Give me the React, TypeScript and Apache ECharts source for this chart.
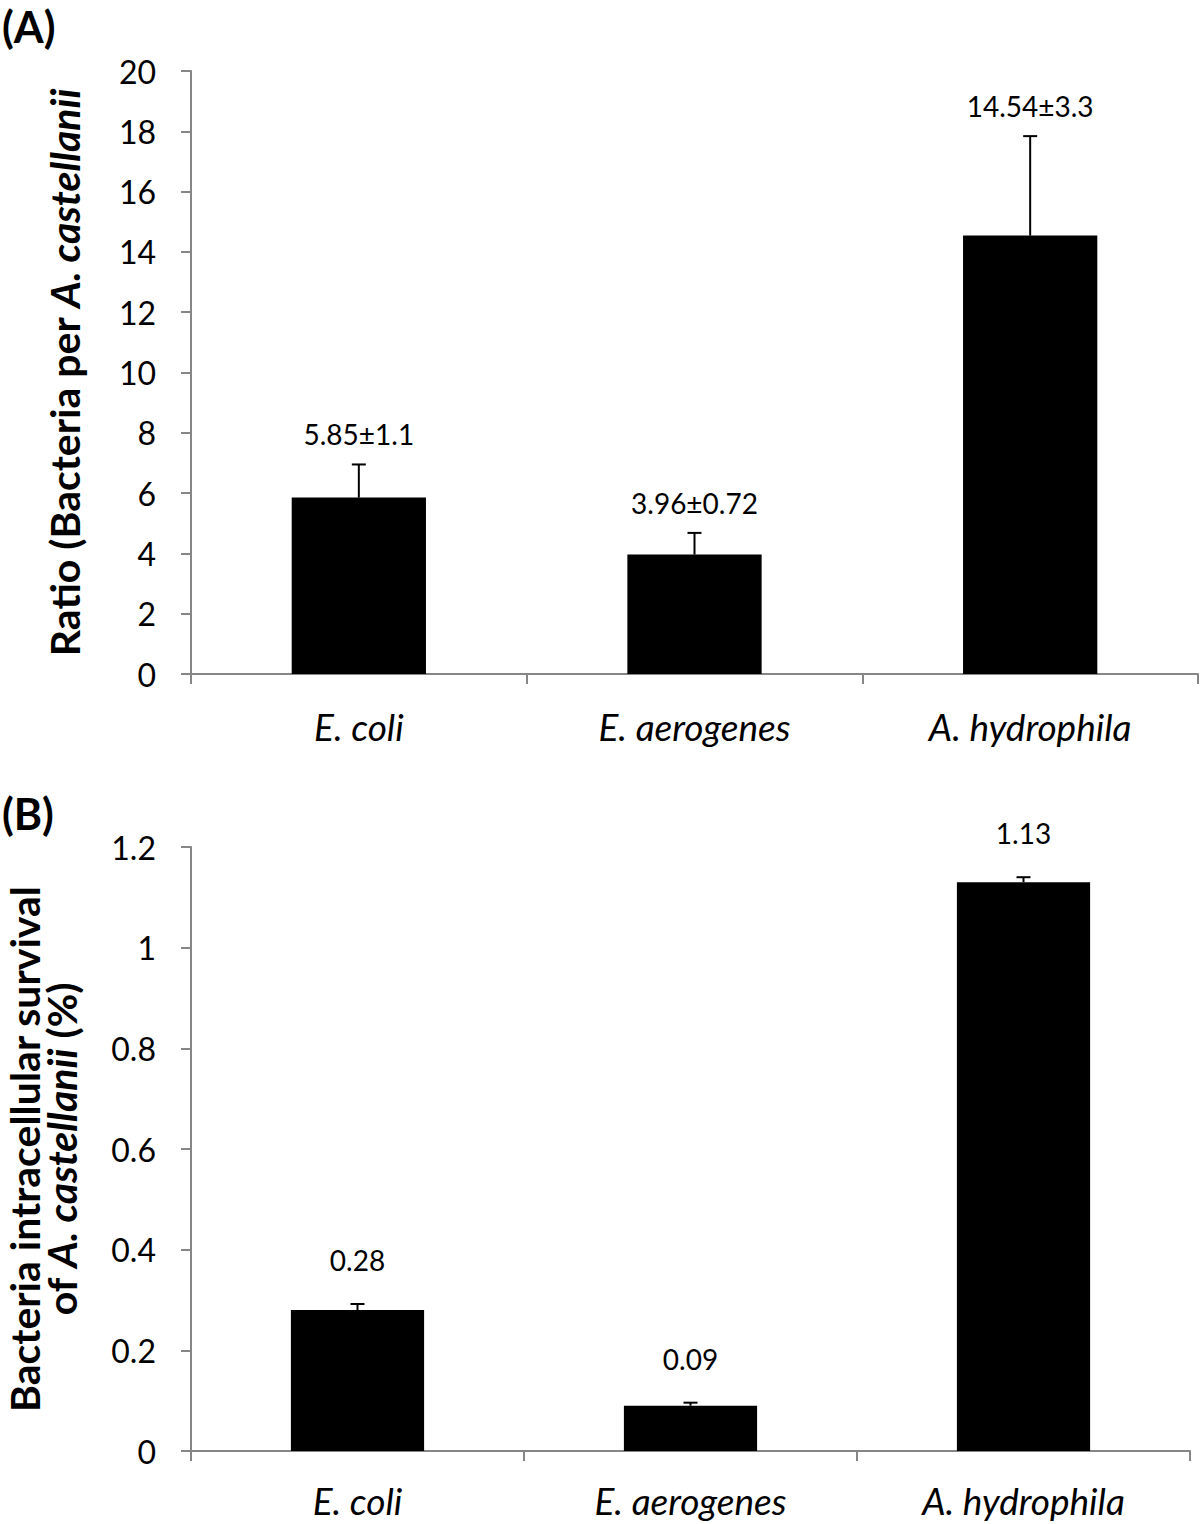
import React, { useEffect, useRef } from "react";
import * as echarts from "echarts";

const categories = ["E. coli", "E. aerogenes", "A. hydrophila"];
const ratioValues = [5.85, 3.96, 14.54];
const ratioErrors = [1.1, 0.72, 3.3];
const ratioLabels = ["5.85±1.1", "3.96±0.72", "14.54±3.3"];
const survivalValues = [0.28, 0.09, 1.13];
const survivalErrors = [0.012, 0.006, 0.01];
const survivalLabels = ["0.28", "0.09", "1.13"];

const FONT = "Lato, 'Open Sans', sans-serif";
const AXIS_GREY = "#868686";

function errorSeries(idx: number, values: number[], errors: number[], labels: string[], gap: number) {
  return {
    type: "custom",
    xAxisIndex: idx,
    yAxisIndex: idx,
    z: 5,
    silent: true,
    data: values.map((v, i) => [i, v, v + errors[i]]),
    renderItem: (params: any, api: any) => {
      const base = api.coord([api.value(0), api.value(1)]);
      const top = api.coord([api.value(0), api.value(2)]);
      const x = base[0];
      return {
        type: "group",
        children: [
          { type: "line", shape: { x1: x, y1: base[1], x2: x, y2: top[1] }, style: { stroke: "#000", lineWidth: 2 } },
          { type: "line", shape: { x1: x - 7, y1: top[1], x2: x + 7, y2: top[1] }, style: { stroke: "#000", lineWidth: 2 } },
          {
            type: "text",
            x: x,
            y: top[1] - gap,
            style: {
              text: labels[params.dataIndex],
              fill: "#000",
              font: `28px ${FONT}`,
              align: "center",
              verticalAlign: "middle",
            },
          },
        ],
      };
    },
  };
}

function yAxis(idx: number, max: number, interval: number, name: string, nameGap: number) {
  return {
    type: "value",
    gridIndex: idx,
    min: 0,
    max,
    interval,
    name,
    nameLocation: "middle",
    nameRotate: 90,
    nameGap,
    nameTextStyle: {
      rich: {
        b: { fontFamily: FONT, fontWeight: "bold", fontSize: 41, color: "#000", lineHeight: 37 },
        bi: { fontFamily: FONT, fontWeight: "bold", fontStyle: "italic", fontSize: 41, color: "#000", lineHeight: 37 },
      },
    },
    axisLine: { show: true, lineStyle: { color: AXIS_GREY, width: 2 } },
    axisTick: { show: true, length: 10, lineStyle: { color: AXIS_GREY, width: 2 } },
    splitLine: { show: false },
    axisLabel: { fontFamily: FONT, fontSize: 32, color: "#000", margin: 35 },
  };
}

function xAxis(idx: number, margin: number) {
  return {
    type: "category",
    gridIndex: idx,
    data: categories,
    axisLine: { show: true, lineStyle: { color: AXIS_GREY, width: 2 } },
    axisTick: { show: true, length: 10, lineStyle: { color: AXIS_GREY, width: 2 } },
    axisLabel: { fontFamily: FONT, fontSize: 37, fontStyle: "italic", color: "#000", margin },
  };
}

export default function App() {
  const ref = useRef<HTMLDivElement>(null);
  useEffect(() => {
    if (!ref.current) return;
    const chart = echarts.init(ref.current, null, { renderer: "svg" });
    chart.setOption({
      animation: false,
      backgroundColor: "#fff",
      grid: [
        { left: 191, right: 2, top: 71, height: 603, outerBoundsMode: "none", containLabel: false },
        { left: 191, right: 10, top: 847, height: 604, outerBoundsMode: "none", containLabel: false },
      ],
      xAxis: [xAxis(0, 34), xAxis(1, 31)],
      yAxis: [
        yAxis(0, 20, 2, "{b|Ratio (Bacteria per }{bi|A. castellanii}", 108),
        yAxis(1, 1.2, 0.2, "{b|Bacteria intracellular survival}\n{b|of }{bi|A. castellanii}{b| (%)}", 111),
      ],
      graphic: [
        { type: "text", left: 2, top: 5, style: { text: "(A)", font: `bold 43px ${FONT}`, fill: "#000" } },
        { type: "text", left: 2, top: 792, style: { text: "(B)", font: `bold 43px ${FONT}`, fill: "#000" } },
      ],
      series: [
        {
          type: "bar",
          xAxisIndex: 0,
          yAxisIndex: 0,
          data: ratioValues,
          barWidth: "40%",
          itemStyle: { color: "#000" },
        },
        {
          type: "bar",
          xAxisIndex: 1,
          yAxisIndex: 1,
          data: survivalValues,
          barWidth: "40%",
          itemStyle: { color: "#000" },
        },
        errorSeries(0, ratioValues, ratioErrors, ratioLabels, 30),
        errorSeries(1, survivalValues, survivalErrors, survivalLabels, 44),
      ],
    });
    return () => chart.dispose();
  }, []);
  return (
    <div style={{ position: "absolute", left: 0, top: 0, width: 1200, height: 1524, background: "#fff" }}>
      <div ref={ref} style={{ width: 1200, height: 1524 }} />
    </div>
  );
}
